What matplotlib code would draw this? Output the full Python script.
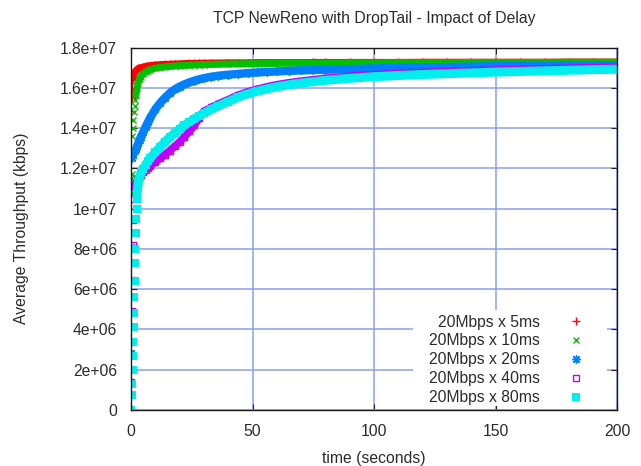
import matplotlib
matplotlib.use("Agg")
import matplotlib.pyplot as plt
from matplotlib.lines import Line2D
from matplotlib.patches import Rectangle

plt.rcParams["font.family"] = ["Liberation Sans", "DejaVu Sans"]
plt.rcParams["font.size"] = 11.3

# ---------------------------------------------------------------- text
title = "TCP NewReno with DropTail - Impact of Delay"
x_label = "time (seconds)"
y_label = "Average Throughput (kbps)"
labels = ["20Mbps x 5ms", "20Mbps x 10ms", "20Mbps x 20ms",
          "20Mbps x 40ms", "20Mbps x 80ms"]
colors = ["#ff0000", "#00c000", "#0080ff", "#c000ff", "#00eeee"]

x_ticks = [0, 50, 100, 150, 200]
y_ticks = [0, 2e6, 4e6, 6e6, 8e6, 1e7, 1.2e7, 1.4e7, 1.6e7, 1.8e7]
y_tick_labels = ["0", "2e+06", "4e+06", "6e+06", "8e+06", "1e+07",
                 "1.2e+07", "1.4e+07", "1.6e+07", "1.8e+07"]

# ---------------------------------------------------------------- data
# common sample times (s) once every flow has left slow start
time = [4, 5, 6, 7, 8, 10, 12, 14, 16, 18, 20, 22, 24, 26, 28, 30, 33, 36,
        40, 44, 48, 52, 56, 60, 65, 70, 75, 80, 90, 100, 110, 120, 130, 140,
        150, 160, 170, 180, 190, 200]

# 5 ms
red_t0 = [0.1, 0.2, 0.3, 0.4, 0.5, 0.6, 0.8, 1.0, 1.5, 2.0, 2.5, 3.0]
red_v0 = [1.283e7, 1.485e7, 1.548e7, 1.590e7, 1.625e7, 1.645e7, 1.655e7,
          1.663e7, 1.676e7, 1.685e7, 1.691e7, 1.696e7]
red_v = [1.700e7, 1.703e7, 1.706e7, 1.708e7, 1.710e7, 1.713e7, 1.715e7,
         1.716e7, 1.717e7, 1.718e7, 1.719e7, 1.720e7, 1.721e7, 1.721e7,
         1.722e7, 1.722e7, 1.723e7, 1.723e7, 1.724e7, 1.724e7, 1.724e7,
         1.725e7, 1.725e7, 1.725e7, 1.725e7, 1.725e7, 1.726e7, 1.726e7,
         1.726e7, 1.726e7, 1.726e7, 1.727e7, 1.727e7, 1.727e7, 1.727e7,
         1.727e7, 1.727e7, 1.728e7, 1.728e7, 1.728e7]

# 10 ms
green_t0 = [0.1, 0.2, 0.3, 0.5, 0.75, 1.0, 1.25, 1.5, 1.75, 2.0, 2.5, 3.0,
            3.5]
green_v0 = [1.080e7, 1.150e7, 1.170e7, 1.360e7, 1.400e7, 1.440e7, 1.480e7,
            1.510e7, 1.540e7, 1.565e7, 1.600e7, 1.625e7, 1.645e7]
green_v = [1.655e7, 1.668e7, 1.678e7, 1.685e7, 1.690e7, 1.697e7, 1.701e7,
           1.704e7, 1.706e7, 1.708e7, 1.710e7, 1.711e7, 1.712e7, 1.713e7,
           1.714e7, 1.715e7, 1.716e7, 1.717e7, 1.718e7, 1.719e7, 1.720e7,
           1.720e7, 1.721e7, 1.721e7, 1.722e7, 1.722e7, 1.723e7, 1.723e7,
           1.724e7, 1.724e7, 1.725e7, 1.725e7, 1.725e7, 1.726e7, 1.726e7,
           1.726e7, 1.726e7, 1.727e7, 1.727e7, 1.727e7]

# 20 ms
blue_t0 = [0.1, 0.2, 0.3, 0.4, 0.6, 0.8, 1.0, 1.5, 2.0, 2.5, 3.0, 3.5]
blue_v0 = [2.83e6, 8.10e6, 1.110e7, 1.250e7, 1.265e7, 1.270e7, 1.275e7,
           1.285e7, 1.295e7, 1.310e7, 1.325e7, 1.340e7]
blue_v = [1.355e7, 1.380e7, 1.405e7, 1.430e7, 1.453e7, 1.493e7, 1.525e7,
          1.551e7, 1.574e7, 1.592e7, 1.606e7, 1.617e7, 1.627e7, 1.635e7,
          1.642e7, 1.648e7, 1.655e7, 1.660e7, 1.665e7, 1.669e7, 1.673e7,
          1.676e7, 1.679e7, 1.681e7, 1.684e7, 1.686e7, 1.688e7, 1.690e7,
          1.693e7, 1.696e7, 1.699e7, 1.701e7, 1.703e7, 1.705e7, 1.707e7,
          1.708e7, 1.709e7, 1.710e7, 1.711e7, 1.712e7]

# 40 ms
purple_t0 = [0.1, 0.25, 0.4, 0.55, 0.7, 0.85, 1.0, 1.5, 2.0, 2.5, 3.0, 3.5]
purple_v0 = [1.40e6, 3.40e6, 4.90e6, 6.45e6, 8.20e6, 9.45e6, 1.050e7,
             1.110e7, 1.128e7, 1.140e7, 1.150e7, 1.158e7]
purple_v = [1.166e7, 1.180e7, 1.192e7, 1.203e7, 1.213e7, 1.231e7, 1.249e7,
            1.268e7, 1.288e7, 1.309e7, 1.331e7, 1.356e7, 1.383e7, 1.413e7,
            1.448e7, 1.483e7, 1.503e7, 1.520e7, 1.541e7, 1.563e7, 1.580e7,
            1.593e7, 1.605e7, 1.615e7, 1.625e7, 1.633e7, 1.640e7, 1.647e7,
            1.657e7, 1.665e7, 1.671e7, 1.676e7, 1.680e7, 1.684e7, 1.688e7,
            1.691e7, 1.694e7, 1.697e7, 1.700e7, 1.702e7]

# 80 ms
cyan_t0 = [0.2, 0.35, 0.5, 0.65, 0.8, 0.95, 1.1, 1.25, 1.4, 1.55, 1.7, 1.85,
           2.0, 2.15, 2.3, 2.45, 2.6, 2.8, 3.0, 3.5]
cyan_v0 = [0.0, 7.5e5, 1.30e6, 2.00e6, 2.70e6, 3.40e6, 4.10e6, 4.80e6,
           5.60e6, 6.40e6, 7.30e6, 8.00e6, 8.80e6, 9.50e6, 1.000e7, 1.050e7,
           1.080e7, 1.110e7, 1.130e7, 1.155e7]
cyan_v = [1.175e7, 1.197e7, 1.217e7, 1.235e7, 1.251e7, 1.280e7, 1.306e7,
          1.331e7, 1.354e7, 1.375e7, 1.395e7, 1.414e7, 1.430e7, 1.445e7,
          1.460e7, 1.473e7, 1.493e7, 1.510e7, 1.531e7, 1.553e7, 1.570e7,
          1.583e7, 1.595e7, 1.605e7, 1.615e7, 1.623e7, 1.630e7, 1.637e7,
          1.647e7, 1.655e7, 1.661e7, 1.666e7, 1.670e7, 1.674e7, 1.678e7,
          1.681e7, 1.684e7, 1.687e7, 1.690e7, 1.692e7]

# ---------------------------------------------------------------- style
W, H = 641, 466
text_color = "#2b2b2b"
grid_color = "#8aa0ec"

markers = [
    dict(marker="+", markersize=5.5, markeredgewidth=1.0),
    dict(marker="x", markersize=5.0, markeredgewidth=1.0),
    dict(marker=(8, 2, 0), markersize=6.0, markeredgewidth=1.0),
    dict(marker="s", markersize=5.0, markeredgewidth=1.0,
         markerfacecolor="none"),
    dict(marker="s", markersize=5.2, markeredgewidth=0.0),
]
band_widths = [5.0, 5.0, 6.0, 5.5, 6.5]
runs = [
    (red_t0, red_v0, red_v, 5),
    (green_t0, green_v0, green_v, 9),
    (blue_t0, blue_v0, blue_v, 4),
    (purple_t0, purple_v0, purple_v, 7),
    (cyan_t0, cyan_v0, cyan_v, 16),
]

fig = plt.figure(figsize=(W / 100, H / 100), dpi=100)
left, right, top, bottom = 131, 617, 47.5, 410
ax = fig.add_axes([left / W, 1 - bottom / H, (right - left) / W,
                   (bottom - top) / H])

ax.set_xlim(0, 200)
ax.set_ylim(0, 1.8e7)
ax.set_axisbelow(True)
ax.grid(True, color=grid_color, linewidth=1.1)

for (t0, v0, v, start), c, mk, lw in zip(runs, colors, markers, band_widths):
    ts = t0 + time
    vs = v0 + v
    ax.plot(ts[start:], vs[start:], color=c, linewidth=lw,
            solid_capstyle="round", solid_joinstyle="round", zorder=2)
    ax.plot(ts, vs, linestyle="none", color=c, zorder=2, **mk)

ax.set_xticks(x_ticks)
ax.set_xticklabels([str(x) for x in x_ticks])
ax.set_yticks(y_ticks)
ax.set_yticklabels(y_tick_labels)
ax.tick_params(axis="both", direction="in", length=4, width=0.8,
               colors="#222222", labelcolor=text_color, top=True, right=True)
ax.tick_params(axis="y", pad=10)
ax.tick_params(axis="x", pad=10)
for s in ax.spines.values():
    s.set_color("#1a1a1a")
    s.set_linewidth(1.0)

# white key box
ax.add_patch(Rectangle(((413 - left) / (right - left), (bottom - 406) / (bottom - top)),
                       (607 - 413) / (right - left), (406 - 310) / (bottom - top),
                       transform=ax.transAxes, facecolor="white",
                       edgecolor="none", zorder=1))
handles = [Line2D([], [], linestyle="none", color=c, **mk)
           for c, mk in zip(colors, markers)]
leg = ax.legend(handles, labels, loc="lower right",
                bbox_to_anchor=((591.4 - left) / (right - left),
                                (bottom - 405) / (bottom - top)),
                bbox_transform=ax.transAxes, frameon=False, markerfirst=False,
                handlelength=2.0, handletextpad=1.27, borderpad=0,
                borderaxespad=0, labelspacing=0.245, fontsize=11.3)
for t in leg.get_texts():
    t.set_color(text_color)

fig.text(374 / W, 1 - 23.3 / H, title, ha="center", va="baseline",
         color=text_color)
fig.text(374 / W, 1 - 462.5 / H, x_label, ha="center", va="baseline",
         color=text_color)
fig.text(21.5 / W, 1 - 228.75 / H, y_label, ha="center", va="center",
         rotation=90, color=text_color)

fig.savefig("out.png", dpi=100, facecolor="white")
